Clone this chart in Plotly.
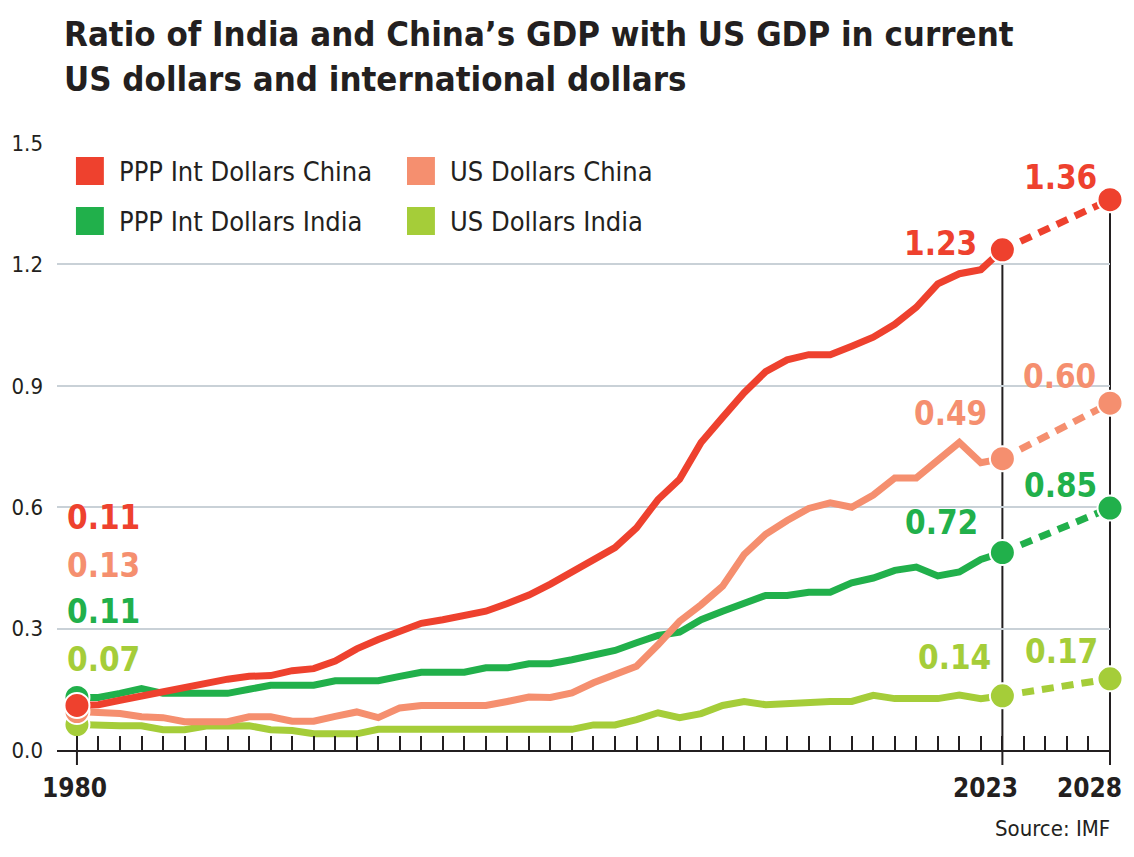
import plotly.graph_objects as go

# ---------------- data ----------------
years = list(range(1980, 2024))
proj_years = [2023, 2028]

ppp_china = [0.110, 0.112, 0.123, 0.134, 0.145, 0.156, 0.166, 0.175, 0.182, 0.184,
             0.196, 0.201, 0.220, 0.250, 0.273, 0.292, 0.313, 0.322, 0.332, 0.343,
             0.362, 0.383, 0.410, 0.440, 0.468, 0.500, 0.549, 0.619, 0.669, 0.760,
             0.822, 0.883, 0.935, 0.964, 0.977, 0.977, 0.998, 1.020, 1.052, 1.094,
             1.152, 1.177, 1.187, 1.236]
usd_china = [0.095, 0.092, 0.090, 0.082, 0.080, 0.070, 0.070, 0.070, 0.082, 0.082,
             0.071, 0.071, 0.083, 0.094, 0.080, 0.104, 0.110, 0.110, 0.110, 0.110,
             0.120, 0.131, 0.130, 0.141, 0.166, 0.186, 0.207, 0.260, 0.318, 0.359,
             0.405, 0.483, 0.533, 0.567, 0.597, 0.611, 0.600, 0.630, 0.672, 0.672,
             0.714, 0.760, 0.710, 0.720]
ppp_india = [0.130, 0.130, 0.140, 0.152, 0.140, 0.140, 0.140, 0.140, 0.150, 0.160,
             0.160, 0.160, 0.171, 0.171, 0.171, 0.182, 0.192, 0.192, 0.192, 0.203,
             0.203, 0.213, 0.213, 0.223, 0.236, 0.246, 0.265, 0.283, 0.291, 0.322,
             0.343, 0.364, 0.382, 0.382, 0.390, 0.390, 0.413, 0.425, 0.444, 0.452,
             0.430, 0.440, 0.471, 0.488]
usd_india = [0.063, 0.060, 0.060, 0.060, 0.050, 0.050, 0.059, 0.059, 0.060, 0.050,
             0.048, 0.040, 0.040, 0.040, 0.051, 0.051, 0.051, 0.051, 0.051, 0.051,
             0.051, 0.051, 0.051, 0.051, 0.062, 0.062, 0.075, 0.092, 0.080, 0.090,
             0.110, 0.120, 0.112, 0.115, 0.120, 0.120, 0.120, 0.135, 0.127, 0.127,
             0.127, 0.136, 0.127, 0.134]

proj_2028 = [1.360, 0.857, 0.598, 0.176]   # ppp_china, usd_china, ppp_india, usd_india

series_names = ["PPP Int Dollars China", "US Dollars China",
                "PPP Int Dollars India", "US Dollars India"]
labels_1980 = ["0.11", "0.13", "0.11", "0.07"]
labels_2023 = ["1.23", "0.49", "0.72", "0.14"]
labels_2028 = ["1.36", "0.60", "0.85", "0.17"]
labelled_years = [1980, 2023, 2028]
y_ticks = [0.0, 0.3, 0.6, 0.9, 1.2, 1.5]
title_text = "Ratio of India and China’s GDP with US GDP in current<br>US dollars and international dollars"
source_text = "Source: IMF"

# ---------------- style ----------------
colors = ["#EE412E", "#F58F6F", "#21B04B", "#A5CD39"]
INK = "#231F20"
GRID = "#C9D1D7"
FONT = "Liberation Sans Narrow, DejaVu Sans Condensed, Arial Narrow, sans-serif"

W, H = 1134, 857
ML, MR, MT, MB = 54, 24, 143, 107
PW, PH = W - ML - MR, H - MT - MB
px_per_year = 21.58
x_lo = years[0] - 20 / px_per_year
x_hi = proj_years[-1]
y_lo, y_hi = y_ticks[0], y_ticks[-1]


def paper_x(year):
    return (year - x_lo) / (x_hi - x_lo)


def pxx(p):  # pixel x -> paper
    return (p - ML) / PW


def pxy(p):  # pixel y -> paper
    return (H - MB - p) / PH


hist = [ppp_china, usd_china, ppp_india, usd_india]

fig = go.Figure()

# solid historical lines (drawn light green first, red last)
for i in [3, 2, 1, 0]:
    fig.add_trace(go.Scatter(x=years, y=hist[i], mode="lines",
                             line=dict(color=colors[i], width=7),
                             showlegend=False, hoverinfo="skip"))
# dashed projections
for i in [3, 2, 1, 0]:
    fig.add_trace(go.Scatter(x=proj_years, y=[hist[i][-1], proj_2028[i]], mode="lines",
                             line=dict(color=colors[i], width=7, dash="12px,8px"),
                             showlegend=False, hoverinfo="skip"))
# markers
for i in [3, 1, 2, 0]:
    fig.add_trace(go.Scatter(x=[years[0], years[-1], proj_years[-1]],
                             y=[hist[i][0], hist[i][-1], proj_2028[i]],
                             mode="markers", cliponaxis=False,
                             marker=dict(color=colors[i], size=25,
                                         line=dict(color="white", width=2)),
                             showlegend=False, hoverinfo="skip"))

shapes = []
# vertical guide lines at 2023 and 2028
top_2023 = max(h[-1] for h in hist)
top_2028 = max(proj_2028)
for yr, top in [(years[-1], top_2023), (proj_years[-1], top_2028)]:
    shapes.append(dict(type="line", xref="paper", yref="y",
                       x0=paper_x(yr), x1=paper_x(yr), y0=0, y1=top,
                       line=dict(color=INK, width=2), layer="below"))
# longer ticks below axis for labelled years
for yr in labelled_years:
    shapes.append(dict(type="line", xref="paper", yref="paper",
                       x0=paper_x(yr), x1=paper_x(yr), y0=0, y1=-15 / PH,
                       line=dict(color=INK, width=2)))

annotations = []
# title
annotations.append(dict(xref="paper", yref="paper", x=pxx(59), y=pxy(12),
                        xanchor="left", yanchor="top", align="left", showarrow=False,
                        text=title_text,
                        font=dict(family=FONT, size=34.5, color=INK, weight="bold")))
# legend (2 x 2)
legend_pos = [(73, 157), (405, 157), (73, 207), (405, 207)]
for i, (lx, ly) in enumerate(legend_pos):
    shapes.append(dict(type="rect", xref="paper", yref="paper",
                       x0=pxx(lx), x1=pxx(lx + 28), y0=pxy(ly + 28), y1=pxy(ly),
                       fillcolor=colors[i], line=dict(width=0)))
    annotations.append(dict(xref="paper", yref="paper", x=pxx(lx + 41), y=pxy(ly + 14),
                            xanchor="left", yanchor="middle", showarrow=False,
                            text=series_names[i],
                            font=dict(family=FONT, size=27, color=INK)))

label_font = dict(family=FONT, size=33, weight="bold")
# 1980 stacked labels
stack_y = [515, 563, 609, 657]
for i in range(4):
    annotations.append(dict(xref="paper", yref="paper", x=pxx(62), y=pxy(stack_y[i] + 2),
                            xanchor="left", yanchor="middle", showarrow=False,
                            text=labels_1980[i], font=dict(label_font, color=colors[i])))
# 2023 labels
offs_2023 = [(-23, 6), (-13, 45), (-22, 30), (-9, 38)]
for i in range(4):
    annotations.append(dict(xref="x", yref="y", x=years[-1], y=hist[i][-1],
                            xanchor="right", yanchor="middle", showarrow=False,
                            xshift=offs_2023[i][0], yshift=offs_2023[i][1],
                            text=labels_2023[i], font=dict(label_font, color=colors[i])))
# 2028 labels
offs_2028 = [(-11, 22), (-12, 27), (-11, 23), (-10, 27)]
for i in range(4):
    annotations.append(dict(xref="x", yref="y", x=proj_years[-1], y=proj_2028[i],
                            xanchor="right", yanchor="middle", showarrow=False,
                            xshift=offs_2028[i][0], yshift=offs_2028[i][1],
                            text=labels_2028[i], font=dict(label_font, color=colors[i])))
# x tick labels for labelled years
tick_shift = [-2, -17, -21]
for yr, sh in zip(labelled_years, tick_shift):
    annotations.append(dict(xref="x", yref="paper", x=yr, y=pxy(788),
                            xanchor="center", yanchor="middle", showarrow=False,
                            xshift=sh, text=str(yr),
                            font=dict(family=FONT, size=26, color=INK, weight="bold")))
# source
annotations.append(dict(xref="paper", yref="paper", x=pxx(1112), y=pxy(828),
                        xanchor="right", yanchor="middle", showarrow=False,
                        text=source_text, font=dict(family=FONT, size=22, color=INK)))

fig.update_layout(
    width=W, height=H,
    margin=dict(l=ML, r=MR, t=MT, b=MB, pad=0),
    paper_bgcolor="white", plot_bgcolor="white",
    showlegend=False,
    xaxis=dict(range=[x_lo, x_hi], showgrid=False, zeroline=False,
               showline=True, linecolor=INK, linewidth=2,
               ticks="inside", ticklen=14, tickwidth=2, tickcolor=INK,
               tickvals=list(range(years[0], proj_years[-1] + 1)),
               showticklabels=False, fixedrange=True),
    yaxis=dict(range=[y_lo, y_hi], tickvals=y_ticks,
               ticktext=[f"{v:.1f}" for v in y_ticks],
               showgrid=True, gridcolor=GRID, gridwidth=2, zeroline=False,
               showline=False, ticks="",
               tickfont=dict(family=FONT, size=22, color=INK),
               ticklabelstandoff=13, fixedrange=True),
    shapes=shapes, annotations=annotations,
)

fig.write_html("out.html")
